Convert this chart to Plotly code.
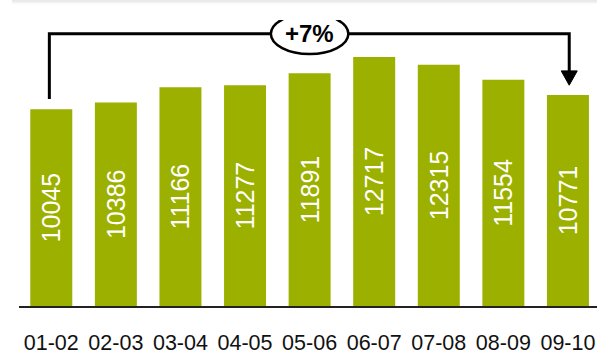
import plotly.graph_objects as go

categories = ["01-02", "02-03", "03-04", "04-05", "05-06", "06-07", "07-08", "08-09", "09-10"]
values = [10045, 10386, 11166, 11277, 11891, 12717, 12315, 11554, 10771]

BAR = "#9CB000"
y_max = 14605
px_y = 50.45  # data units per pixel (vertical)

change = round((values[-1] / values[0] - 1) * 100)
label = f"{change:+d}%"

fig = go.Figure(go.Bar(
    x=list(range(len(categories))),
    y=values,
    text=[str(v) for v in values],
    textposition="inside",
    insidetextanchor="middle",
    textangle=-90,
    textfont=dict(family="Liberation Sans, Arial", size=25, color="white"),
    marker=dict(color=BAR, line=dict(width=0)),
    width=0.65,
    hoverinfo="skip",
))

i0, i1 = 0, len(values) - 1
top = max(values) + 1180
left_low = values[i0] + 525
tip = values[i1] + 505
head_top = tip + 730
hw = 0.124

shapes = [
    dict(type="path", xref="x", yref="y",
         path=f"M {i0 - 0.03},{left_low} L {i0 - 0.03},{top} L {i1 + 0.02},{top} L {i1 + 0.02},{head_top}",
         line=dict(color="black", width=3)),
    dict(type="path", xref="x", yref="y",
         path=f"M {i1 + 0.02 - hw},{head_top} L {i1 + 0.02 + hw},{head_top} L {i1 + 0.02},{tip} Z",
         fillcolor="black", line=dict(color="black", width=1)),
    dict(type="circle", xref="x", yref="y",
         x0=(i0 + i1) / 2 - 0.6, x1=(i0 + i1) / 2 + 0.6,
         y0=top - 20.5 * px_y, y1=top + 20.5 * px_y,
         fillcolor="white", line=dict(color="black", width=2.5)),
]
# top panel shadow
for k, op in enumerate([0.20, 0.12, 0.06, 0.03]):
    yy = 1 + (20 - 0.5 - k) / 290
    shapes.append(dict(type="line", xref="paper", yref="paper",
                       x0=-0.012, x1=1.02, y0=yy, y1=yy,
                       line=dict(color=f"rgba(110,110,110,{op})", width=1)))

fig.update_layout(
    width=597, height=355,
    margin=dict(l=19, r=0, t=20, b=45.5),
    plot_bgcolor="white", paper_bgcolor="white",
    showlegend=False,
    shapes=shapes,
    annotations=[dict(x=(i0 + i1) / 2, y=top, xref="x", yref="y", text=f"<b>{label}</b>",
                      showarrow=False, font=dict(family="Liberation Sans, Arial", size=24, color="black"))],
    xaxis=dict(
        range=[-0.5, 8.45], tickmode="array", tickvals=list(range(len(categories))),
        ticktext=categories, showgrid=False, zeroline=False,
        showline=True, linecolor="#222", linewidth=2, ticks="",
        ticklabelstandoff=16,
        tickfont=dict(family="Liberation Sans, Arial", size=21.5, color="#111"),
    ),
    yaxis=dict(range=[0, y_max], visible=False, showgrid=False, zeroline=False),
)

fig.write_html("out.html", config={"displayModeBar": False},
               post_script="document.body.style.margin='0';document.body.style.overflow='hidden';")
